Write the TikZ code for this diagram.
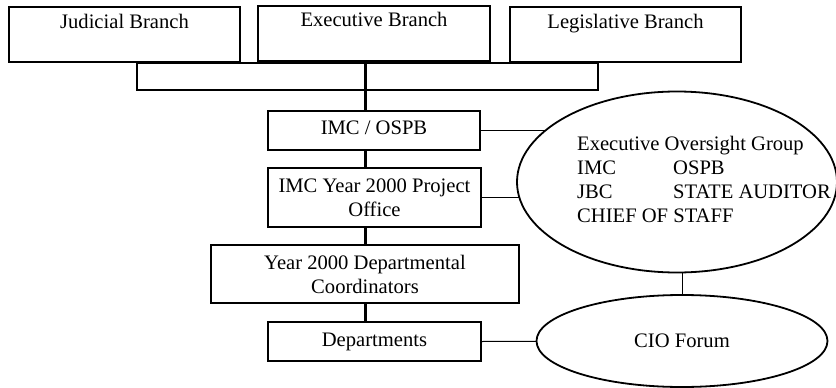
\documentclass[tikz,border=0pt]{standalone}
\usepackage{fontspec}
\setmainfont{Liberation Serif}
\usetikzlibrary{shapes.geometric,backgrounds,positioning}

\tikzset{
  orgbox/.style={draw, line width=1.9pt, fill=white, inner sep=3pt, align=center},
  branchbox/.style={orgbox, minimum height=55pt, text height=18pt, text depth=31pt},
  groupoval/.style={draw, ellipse, line width=1.8pt, fill=white, inner sep=0pt},
  spine/.style={line width=3pt},
  tie/.style={line width=1pt}
}

\begin{document}
\begin{tikzpicture}[x=1pt, y=-1pt, every node/.style={font=\fontsize{20.6}{24}\selectfont}]
\useasboundingbox (0,0) rectangle (836,388);
\foreach \name/\label/\x/\y/\w in {jud/Judicial Branch/124.5/34.5/231,exe/Executive Branch/374/33.5/232,leg/Legislative Branch/625.5/34.5/231}{
  \node[branchbox, minimum width=\w pt] (\name) at (\x,\y) {\label};
}
\node[draw, line width=1.9pt, minimum width=461pt, minimum height=27pt] (bar) at (367.5,76.5) {};
\node[orgbox, minimum width=212pt, minimum height=39pt, text depth=5pt] (imc) at (374,130.5) {IMC / OSPB};
\node[orgbox, minimum width=213pt, minimum height=59pt] (pmo) at (374.5,197.5) {IMC Year 2000 Project\\Office};
\node[orgbox, minimum width=308pt, minimum height=58pt] (coord) at (365,274) {Year 2000 Departmental\\Coordinators};
\node[orgbox, minimum width=213pt, minimum height=39pt] (dept) at (374.5,341.5) {Departments};
\node[groupoval, minimum width=320pt, minimum height=181pt] (eog) at (677,182) {};
\node[anchor=west, align=left, inner sep=0pt] (eogtext) at (577,179) {Executive Oversight Group\\\makebox[96pt][l]{IMC}OSPB\\\makebox[96pt][l]{JBC}STATE AUDITOR\\CHIEF OF STAFF};
\node[groupoval, minimum width=291pt, minimum height=92pt] (cio) at (682,341) {CIO Forum};
\begin{scope}[on background layer]
\draw[spine] (exe.south -| coord) -- (imc.north -| coord);
\draw[spine] (imc.south -| coord) -- (pmo.north -| coord);
\draw[spine] (pmo.south -| coord) -- (coord.north);
\draw[spine] (coord.south) -- (dept.north -| coord);
\draw[tie] (imc.east) -- (imc.east -| eog.center);
\draw[tie] (pmo.east) -- (pmo.east -| eog.center);
\draw[tie] (cio.north) -- (cio.north |- eog.center);
\draw[tie] (dept.east) -- (cio.center);
\end{scope}
\end{tikzpicture}
\end{document}
